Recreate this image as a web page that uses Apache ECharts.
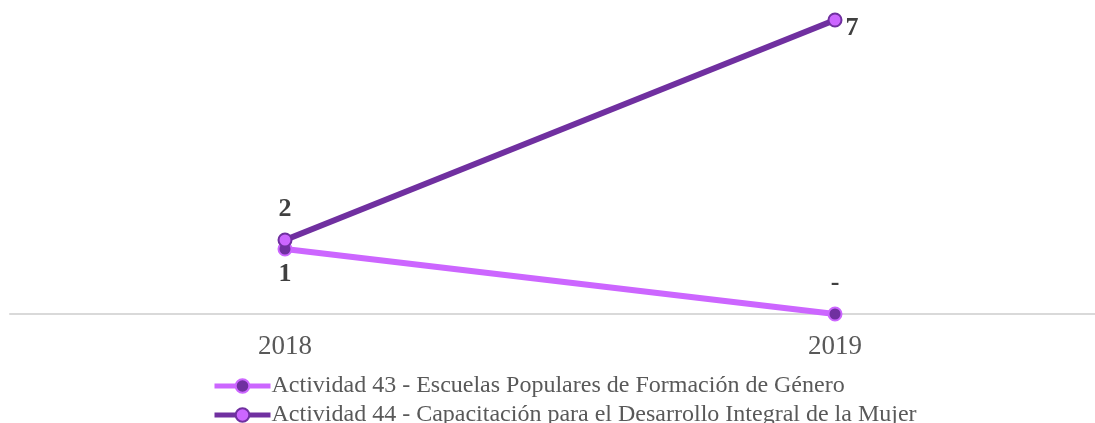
<!DOCTYPE html>
<html>
<head>
<meta charset="utf-8">
<script src="https://cdn.jsdelivr.net/npm/echarts@6/dist/echarts.min.js"></script>
<style>
  html, body { margin: 0; padding: 0; background: #ffffff; }
  #chart { width: 1095px; height: 423px; }
</style>
</head>
<body>
<div id="chart"></div>
<script>
// Years on the category axis
const years = ['2018', '2019'];

// Series names and values per year
const seriesNames = [
  'Actividad 43 - Escuelas Populares de Formación de Género',
  'Actividad 44 - Capacitación para el Desarrollo Integral de la Mujer'
];
const act43 = [1, 0];
const act44 = [2, 7];

const LIGHT = '#CC66FF';
const DARK = '#7030A0';
const SERIF = '"Liberation Serif", "Times New Roman", serif';

const labelStyle = {
  show: true,
  fontFamily: SERIF,
  fontWeight: 'bold',
  fontSize: 26,
  color: '#404040',
  formatter: p => (p.value === 0 ? '-' : String(p.value))
};

// One legend row per series, stacked below the axis
const legendRow = (name, top) => ({
  orient: 'vertical',
  left: 207,
  top: top,
  itemWidth: 56,
  itemHeight: 17,
  lineStyle: { width: 5 },
  textStyle: {
    fontFamily: SERIF,
    fontSize: 24,
    color: '#595959',
    padding: [0, 0, 0, -4]
  },
  data: [name]
});

const chart = echarts.init(document.getElementById('chart'), null, { renderer: 'canvas' });

chart.setOption({
  animation: false,
  backgroundColor: '#ffffff',
  grid: [
    // plotting grid: spans the two year positions
    { left: 285, width: 550, top: 20, bottom: 109, containLabel: false },
    // full-width baseline under the plot
    { left: 10, right: 0, top: 20, bottom: 109, containLabel: false }
  ],
  xAxis: [
    {
      type: 'category',
      gridIndex: 0,
      data: years,
      boundaryGap: false,
      axisLine: { show: false },
      axisTick: { show: false },
      axisLabel: {
        fontFamily: SERIF,
        fontSize: 27,
        color: '#595959',
        margin: 19
      },
      z: 1
    },
    {
      type: 'value',
      gridIndex: 1,
      min: 0,
      max: 1,
      axisLine: { show: true, lineStyle: { color: '#D9D9D9', width: 2 } },
      axisTick: { show: false },
      axisLabel: { show: false },
      splitLine: { show: false },
      z: 0
    }
  ],
  yAxis: [
    { type: 'value', gridIndex: 0, min: 0.318, max: 7, show: false, splitLine: { show: false } },
    { type: 'value', gridIndex: 0, min: 0, max: 4.523, show: false, splitLine: { show: false } },
    { type: 'value', gridIndex: 1, min: 0, max: 1, show: false, splitLine: { show: false } }
  ],
  legend: [legendRow(seriesNames[0], 369), legendRow(seriesNames[1], 398)],
  series: [
    {
      name: seriesNames[0],
      type: 'line',
      xAxisIndex: 0,
      yAxisIndex: 1,
      data: act43.map(v => (v === 0
        ? { value: v, label: { position: 'top', distance: 10 } }
        : { value: v })),
      symbol: 'circle',
      symbolSize: 13,
      lineStyle: { color: LIGHT, width: 6 },
      itemStyle: { color: DARK, borderColor: LIGHT, borderWidth: 2 },
      label: Object.assign({}, labelStyle, { position: 'bottom', distance: 5 }),
      z: 2
    },
    {
      name: seriesNames[1],
      type: 'line',
      xAxisIndex: 0,
      yAxisIndex: 0,
      data: act44.map((v, i) => ({
        value: v,
        label: i === 0
          ? { position: 'top', distance: 10 }
          : { position: 'right', distance: 3, offset: [0, 8] }
      })),
      symbol: 'circle',
      symbolSize: 13,
      lineStyle: { color: DARK, width: 6 },
      itemStyle: { color: LIGHT, borderColor: DARK, borderWidth: 2 },
      label: labelStyle,
      z: 3
    }
  ]
});
</script>
</body>
</html>
